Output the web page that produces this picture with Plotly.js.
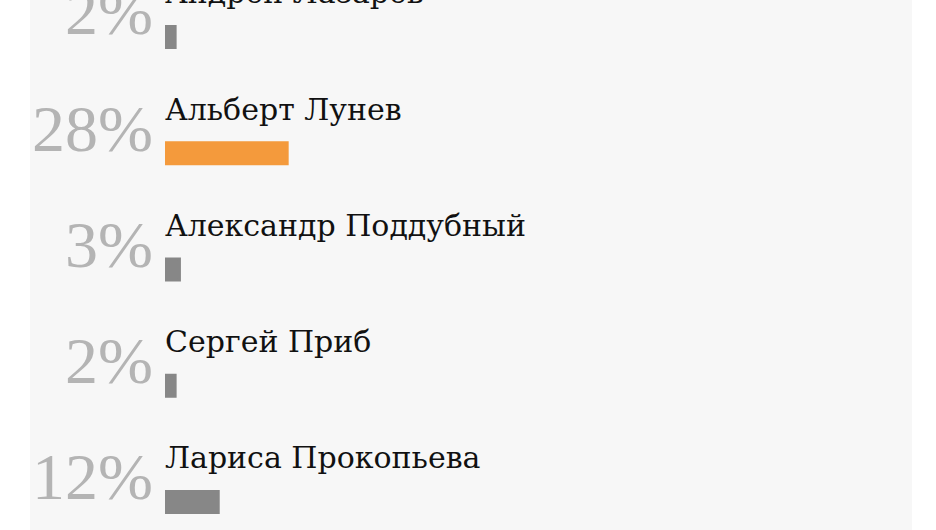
<!DOCTYPE html>
<html>
<head>
<meta charset="utf-8">
<script src="https://cdn.plot.ly/plotly-3.0.1.min.js"></script>
<style>
  html, body { margin: 0; padding: 0; background: #ffffff; }
  #myPlot { width: 936px; height: 530px; }
</style>
</head>
<body>
<div id="myPlot"></div>
<script>
// poll results, top to bottom
const names = ["Андрей Лазарев", "Альберт Лунев", "Александр Поддубный", "Сергей Приб", "Лариса Прокопьева"];
const shares = [2, 28, 3, 2, 12];
const leader = "Альберт Лунев";

const rows = names.map((n, i) => i);
const barColors = names.map(n => n == leader ? "#f49a3c" : "#878787");

const data = [{
    type: "bar",
    orientation: "h",
    x: shares,
    y: rows,
    width: 0.18,
    marker: {color: barColors, line: {color: barColors, width: 3}},
    hoverinfo: "none"
}];

const annotations = [];
for (let i = 0; i < names.length; i++) {
    // candidate name, above the bar
    annotations.push({
        x: 0, y: rows[i], xref: "x", yref: "y",
        text: names[i],
        showarrow: false,
        xanchor: "left", yanchor: "middle",
        xshift: -4, yshift: 44,
        font: {family: "DejaVu Serif, serif", size: 30, color: "#111111"}
    });
    // big grey percentage on the left
    annotations.push({
        x: 0, y: rows[i], xref: "x", yref: "y",
        text: shares[i] + "%",
        showarrow: false,
        xanchor: "right", yanchor: "middle",
        xshift: -12, yshift: 25,
        font: {family: "Liberation Serif, serif", size: 66, color: "#b4b4b4"}
    });
}

const layout = {
    width: 936,
    height: 530,
    margin: {l: 30, r: 24, t: 0, b: 0, pad: 0},
    paper_bgcolor: "#ffffff",
    plot_bgcolor: "#f7f7f7",
    showlegend: false,
    xaxis: {
        range: [-31.67, 172.97],
        visible: false,
        fixedrange: true
    },
    yaxis: {
        range: [4.241, -0.318],
        visible: false,
        fixedrange: true
    },
    annotations: annotations
};

Plotly.newPlot("myPlot", data, layout, {displayModeBar: false, staticPlot: true});
</script>
</body>
</html>
